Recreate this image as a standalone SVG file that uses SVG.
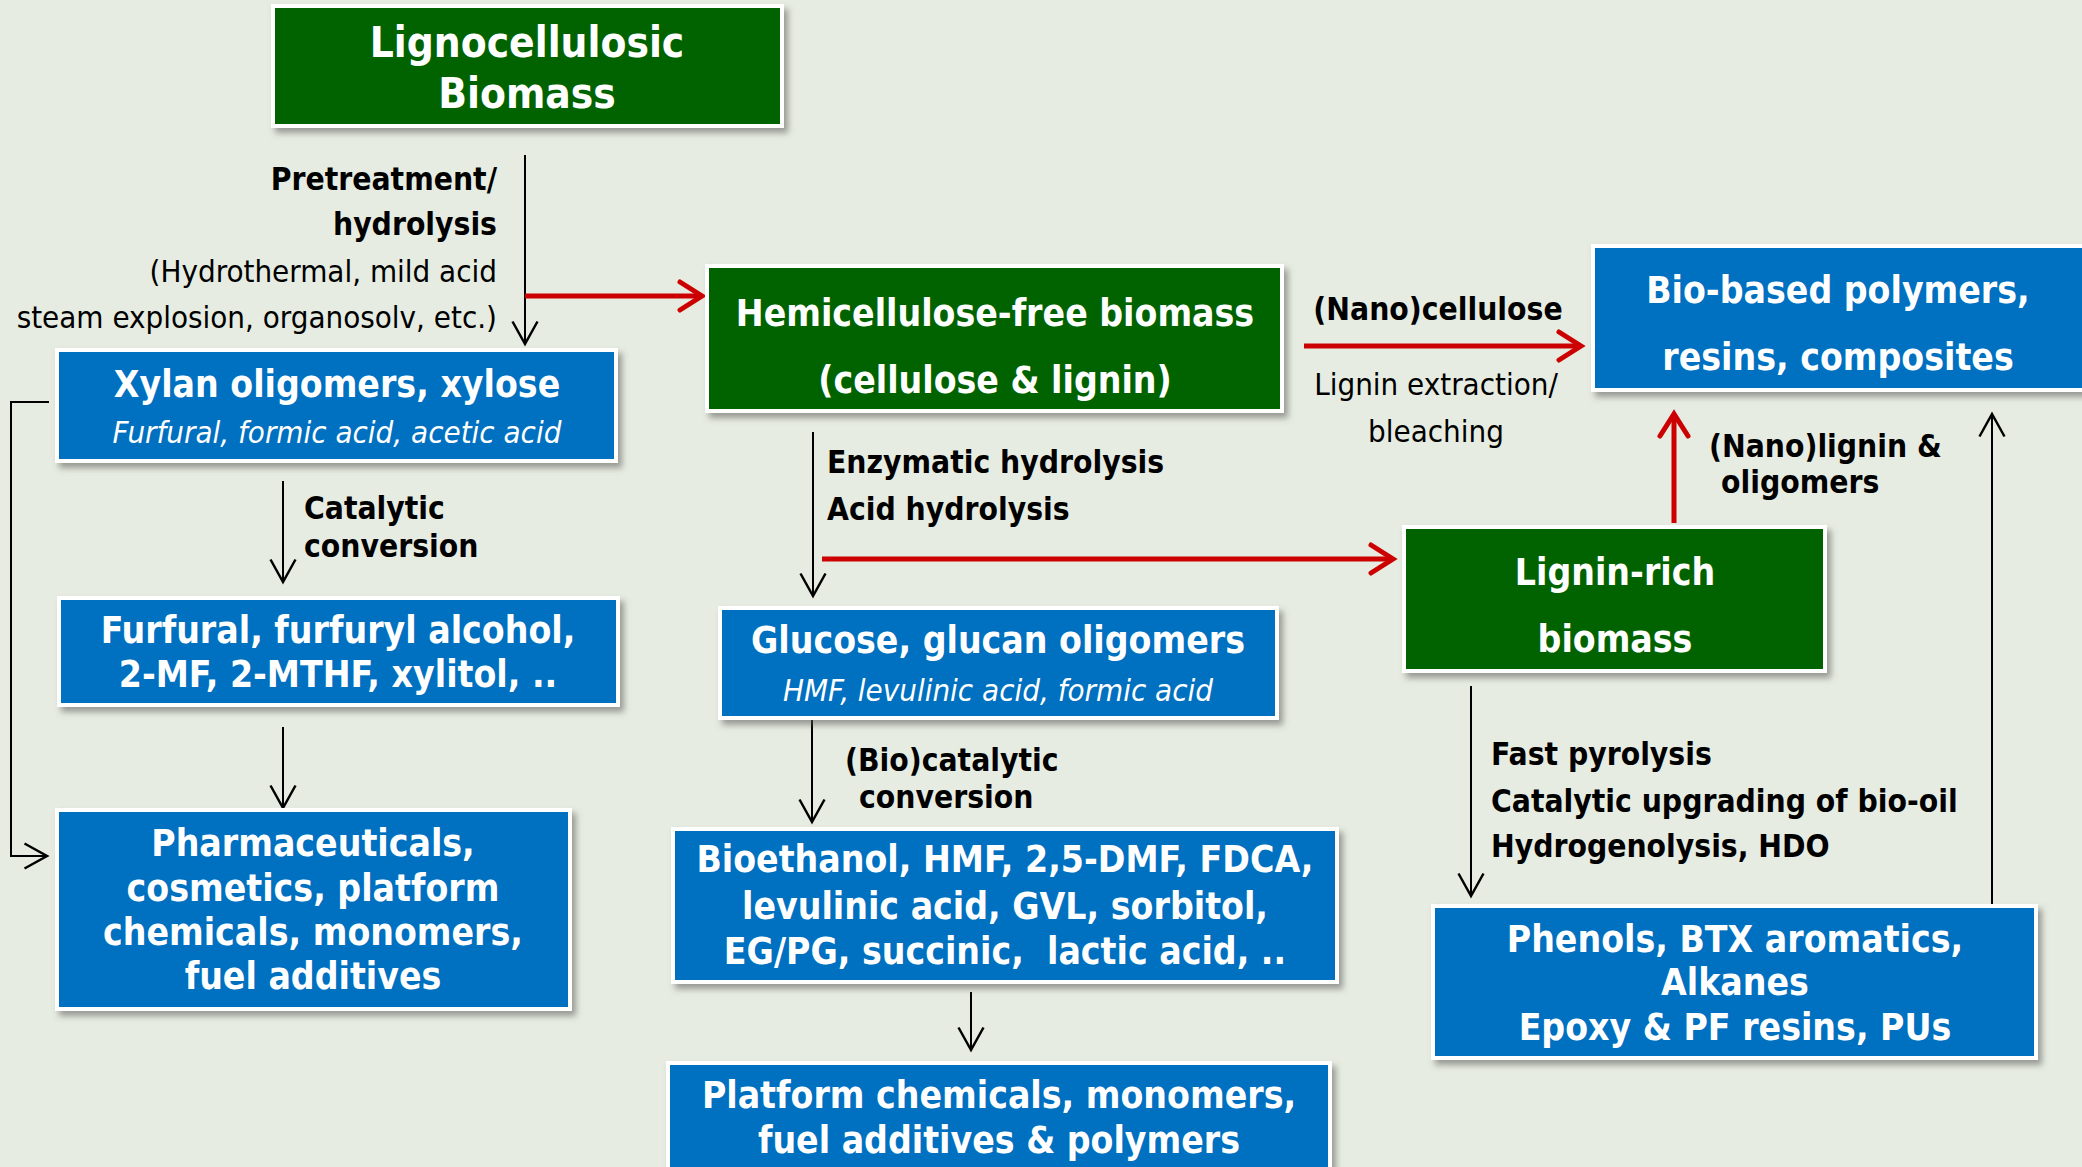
<svg xmlns="http://www.w3.org/2000/svg" width="2082" height="1167" viewBox="0 0 2082 1167">
<defs>
<style>
text{font-family:"DejaVu Sans Condensed","DejaVu Sans",sans-serif;font-stretch:condensed}
.bx{stroke:#fff;stroke-width:4;filter:url(#sh)}
.g{fill:#006400}
.b{fill:#0070C0}
.t{fill:#fff;font-weight:bold;font-size:37px;text-anchor:middle}
.ti{fill:#fff;font-style:italic;font-size:31px;text-anchor:middle}
.lb{fill:#000;font-weight:bold;font-size:31.5px}
.lr{fill:#000;font-size:31px}
.k{fill:none;stroke:#000;stroke-width:2}
.r{fill:none;stroke:#CC0000;stroke-width:5}
</style>
<filter id="sh" x="-10%" y="-10%" width="130%" height="140%">
<feDropShadow dx="4" dy="5" stdDeviation="3" flood-color="#555" flood-opacity="0.55"/>
</filter>
<marker id="ak" markerUnits="userSpaceOnUse" markerWidth="30" markerHeight="30" viewBox="-20 -12 24 24" refX="0" refY="0" orient="auto">
<path d="M-18,-10 L0,0 L-18,10" fill="none" stroke="#000" stroke-width="2"/>
</marker>
<marker id="ar" markerUnits="userSpaceOnUse" markerWidth="40" markerHeight="40" viewBox="-28 -20 34 40" refX="0" refY="0" orient="auto">
<path d="M-22,-14 L0,0 L-22,14" fill="none" stroke="#CC0000" stroke-width="5" stroke-linecap="round" stroke-linejoin="miter"/>
</marker>
</defs>
<rect width="2082" height="1167" fill="#E6ECE1"/>

<g id="connectors">
<path class="k" d="M525,155 V344" marker-end="url(#ak)"/>
<path class="r" d="M525,296 H702" marker-end="url(#ar)"/>
<path class="k" d="M49,402 H11 V856 H47" marker-end="url(#ak)"/>
<path class="k" d="M283,481 V582" marker-end="url(#ak)"/>
<path class="k" d="M283,727 V808" marker-end="url(#ak)"/>
<path class="k" d="M813,432 V596" marker-end="url(#ak)"/>
<path class="r" d="M822,559 H1393" marker-end="url(#ar)"/>
<path class="k" d="M812,720 V822" marker-end="url(#ak)"/>
<path class="k" d="M971,992 V1050" marker-end="url(#ak)"/>
<path class="r" d="M1304,346 H1581" marker-end="url(#ar)"/>
<path class="r" d="M1674,523 V414" marker-end="url(#ar)"/>
<path class="k" d="M1471,686 V896" marker-end="url(#ak)"/>
<path class="k" d="M1992,904 V414" marker-end="url(#ak)"/>
</g>

<g id="labels">
<text class="lb" text-anchor="end" x="497" y="190">Pretreatment/</text>
<text class="lb" text-anchor="end" x="497" y="235">hydrolysis</text>
<text class="lr" text-anchor="end" x="497" y="282">(Hydrothermal, mild acid</text>
<text class="lr" text-anchor="end" x="497" y="328">steam explosion, organosolv, etc.)</text>
<text class="lb" x="304" y="519">Catalytic</text>
<text class="lb" x="304" y="557">conversion</text>
<text class="lb" x="827" y="473">Enzymatic hydrolysis</text>
<text class="lb" x="827" y="520">Acid hydrolysis</text>
<text class="lb" x="845" y="771">(Bio)catalytic</text>
<text class="lb" x="859" y="808">conversion</text>
<text class="lb" text-anchor="middle" x="1438" y="320">(Nano)cellulose</text>
<text class="lr" text-anchor="middle" x="1436" y="395">Lignin extraction/</text>
<text class="lr" text-anchor="middle" x="1436" y="442">bleaching</text>
<text class="lb" x="1709" y="457">(Nano)lignin &amp;</text>
<text class="lb" x="1721" y="493">oligomers</text>
<text class="lb" x="1491" y="765">Fast pyrolysis</text>
<text class="lb" x="1491" y="812">Catalytic upgrading of bio-oil</text>
<text class="lb" x="1491" y="857">Hydrogenolysis, HDO</text>
</g>

<g id="n-ligno">
<rect class="bx g" x="273" y="6" width="509" height="120"/>
<text class="t" style="font-size:42px" x="527" y="57">Lignocellulosic</text>
<text class="t" style="font-size:42px" x="527" y="108">Biomass</text>
</g>
<g id="n-hemi">
<rect class="bx g" x="707" y="266" width="575" height="145"/>
<text class="t" x="995" y="326">Hemicellulose-free biomass</text>
<text class="t" x="995" y="393">(cellulose &amp; lignin)</text>
</g>
<g id="n-xylan">
<rect class="bx b" x="57" y="350" width="559" height="111"/>
<text class="t" x="337" y="397">Xylan oligomers, xylose</text>
<text class="ti" x="337" y="443">Furfural, formic acid, acetic acid</text>
</g>
<g id="n-furfural">
<rect class="bx b" x="59" y="598" width="559" height="107"/>
<text class="t" x="338" y="643">Furfural, furfuryl alcohol,</text>
<text class="t" x="338" y="687">2-MF, 2-MTHF, xylitol, ..</text>
</g>
<g id="n-pharma">
<rect class="bx b" x="57" y="810" width="513" height="199"/>
<text class="t" x="313" y="856">Pharmaceuticals,</text>
<text class="t" x="313" y="901">cosmetics, platform</text>
<text class="t" x="313" y="945">chemicals, monomers,</text>
<text class="t" x="313" y="989">fuel additives</text>
</g>
<g id="n-glucose">
<rect class="bx b" x="720" y="608" width="557" height="110"/>
<text class="t" x="998" y="653">Glucose, glucan oligomers</text>
<text class="ti" x="998" y="701">HMF, levulinic acid, formic acid</text>
</g>
<g id="n-bioethanol">
<rect class="bx b" x="673" y="829" width="664" height="153"/>
<text class="t" x="1005" y="872">Bioethanol, HMF, 2,5-DMF, FDCA,</text>
<text class="t" x="1005" y="919">levulinic acid, GVL, sorbitol,</text>
<text class="t" x="1005" y="964" style="white-space:pre">EG/PG, succinic,  lactic acid, ..</text>
</g>
<g id="n-platform">
<rect class="bx b" x="668" y="1063" width="662" height="130"/>
<text class="t" x="999" y="1108">Platform chemicals, monomers,</text>
<text class="t" x="999" y="1153">fuel additives &amp; polymers</text>
</g>
<g id="n-biobased">
<rect class="bx b" x="1593" y="246" width="500" height="144"/>
<text class="t" x="1838" y="303">Bio-based polymers,</text>
<text class="t" x="1838" y="370">resins, composites</text>
</g>
<g id="n-ligninrich">
<rect class="bx g" x="1404" y="527" width="421" height="144"/>
<text class="t" x="1615" y="585">Lignin-rich</text>
<text class="t" x="1615" y="652">biomass</text>
</g>
<g id="n-phenols">
<rect class="bx b" x="1433" y="906" width="603" height="152"/>
<text class="t" x="1735" y="952">Phenols, BTX aromatics,</text>
<text class="t" x="1735" y="995">Alkanes</text>
<text class="t" x="1735" y="1040">Epoxy &amp; PF resins, PUs</text>
</g>
</svg>
